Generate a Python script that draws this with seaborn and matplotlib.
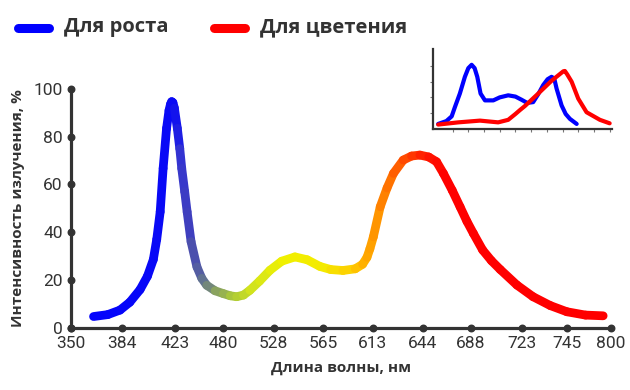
import numpy as np
import matplotlib
matplotlib.use("Agg")
import matplotlib.pyplot as plt
import seaborn as sns
from matplotlib.collections import LineCollection
from matplotlib.colors import LinearSegmentedColormap
from matplotlib.lines import Line2D

# --- data ---
tick_labels = ["350", "384", "423", "480", "528", "565", "613", "644", "688", "723", "745", "800"]
tick_pos = [0, 1.04, 2.12, 3.1, 4.14, 5.14, 6.16, 7.18, 8.16, 9.2, 10.12, 11.02]
y_ticks = [0, 20, 40, 60, 80, 100]

# spectrum curve, x in axis units (tick positions above)
spec_x = [0.46, 0.75, 1.0, 1.2, 1.41, 1.56, 1.68, 1.75, 1.82, 1.88, 1.95, 2.0, 2.03, 2.055,
          2.08, 2.11, 2.17, 2.22, 2.26, 2.32, 2.37, 2.45, 2.57, 2.67, 2.77, 2.94, 3.11, 3.25,
          3.38, 3.52, 3.65, 3.85, 4.06, 4.3, 4.57, 4.82, 5.08, 5.3, 5.55, 5.8, 5.95, 6.04,
          6.1, 6.17, 6.31, 6.45, 6.58, 6.78, 6.95, 7.12, 7.3, 7.46, 7.6, 7.78, 7.94, 8.08,
          8.21, 8.4, 8.58, 8.76, 9.1, 9.43, 9.78, 10.12, 10.5, 10.86]
spec_y = [4.6, 5.4, 7.3, 10.6, 15.9, 21.5, 28.5, 37.0, 48.5, 66.7, 83.5, 91.0, 93.6, 94.7,
          94.3, 92.0, 83.5, 75.0, 66.7, 57.0, 48.5, 36.0, 25.4, 20.6, 17.7, 15.4, 14.2, 13.3,
          12.9, 13.6, 15.6, 19.5, 24.0, 27.8, 29.6, 28.4, 25.6, 24.3, 23.9, 24.6, 26.5, 29.4,
          33.0, 38.0, 50.6, 58.5, 64.6, 70.2, 71.9, 72.3, 71.5, 69.5, 64.6, 57.5, 50.6, 44.5,
          39.5, 32.5, 28.0, 24.3, 17.8, 12.9, 9.2, 6.6, 5.2, 4.9]

# inset curves
grow_x = [0.08, 0.6, 0.94, 1.15, 1.46, 1.78, 2.0, 2.21, 2.4, 2.57, 2.78, 3.06, 3.59, 4.0,
          4.54, 5.0, 5.39, 5.75, 6.13, 6.45, 6.77, 7.05, 7.3, 7.47, 7.62, 7.94, 8.2, 8.47, 8.9]
grow_y = [0.32, 0.5, 0.8, 1.4, 2.24, 3.3, 3.85, 4.06, 3.85, 3.3, 2.24, 1.81, 1.81, 2.0,
          2.13, 2.05, 1.85, 1.65, 1.7, 2.2, 2.78, 3.15, 3.3, 3.2, 2.56, 1.49, 0.95, 0.64, 0.32]
bloom_x = [0.08, 1.36, 2.74, 3.9, 4.54, 5.0, 5.29, 5.6, 6.45, 7.3, 7.8, 8.05, 8.15, 8.3,
           8.58, 9.0, 9.53, 10.38, 11.0]
bloom_y = [0.28, 0.42, 0.53, 0.42, 0.58, 0.95, 1.2, 1.45, 2.24, 3.05, 3.45, 3.65, 3.67, 3.45,
           2.99, 1.92, 1.06, 0.58, 0.36]

legend_labels = ["Для роста", "Для цветения"]

dark = "#333333"
sns.set_style("white")
plt.rcParams["font.family"] = ["Open Sans", "DejaVu Sans"]

fig = plt.figure(figsize=(6.3, 3.9), dpi=100)
ax = fig.add_axes([71 / 630, 1 - 327.5 / 390, 540 / 630, 238.5 / 390])

# gradient spectrum line
cmap = LinearSegmentedColormap.from_list("spec", [
    (0.0, "#0000ff"), (2.08 / 11.02, "#0a0af5"), (2.25 / 11.02, "#3434d0"),
    (2.45 / 11.02, "#4646b4"), (2.7 / 11.02, "#5e6e94"), (3.0 / 11.02, "#88a062"),
    (3.35 / 11.02, "#aac83a"), (3.8 / 11.02, "#d6e61a"), (4.4 / 11.02, "#f0f000"),
    (5.2 / 11.02, "#f4ea00"), (5.8 / 11.02, "#ffcc00"), (6.25 / 11.02, "#ff9200"),
    (6.8 / 11.02, "#ff5200"), (7.3 / 11.02, "#ff1800"), (7.7 / 11.02, "#ff0000"),
    (1.0, "#ff0000")])
pts = np.column_stack([spec_x, spec_y])
segs = np.stack([pts[:-1], pts[1:]], axis=1)
mid = (np.array(spec_x[:-1]) + np.array(spec_x[1:])) / 2 / 11.02
lc = LineCollection(segs, colors=cmap(mid), linewidths=6.3, capstyle="round",
                    joinstyle="round", clip_on=False, zorder=3)
ax.add_collection(lc)

ax.set_xlim(0, 11.02)
ax.set_ylim(0, 100)
ax.set_xticks(tick_pos)
ax.set_xticklabels(tick_labels)
ax.set_yticks(y_ticks)
sns.despine(ax=ax)
for s in ["left", "bottom"]:
    ax.spines[s].set_color(dark)
    ax.spines[s].set_linewidth(2.3)
ax.tick_params(length=0, labelsize=12.5, labelcolor=dark, pad=6)
for lab in ax.get_xticklabels() + ax.get_yticklabels():
    lab.set_fontfamily(["Liberation Sans Narrow", "Roboto", "DejaVu Sans"])
ax.scatter(tick_pos, [0] * len(tick_pos), s=22, color=dark, clip_on=False, zorder=4)
ax.scatter([0] * len(y_ticks), y_ticks, s=22, color=dark, clip_on=False, zorder=4)
ax.set_xlabel("Длина волны, нм", fontsize=11, fontweight="bold", color=dark, labelpad=7)
ax.set_ylabel("Интенсивность излучения, %", fontsize=11, fontweight="bold", color=dark, labelpad=6)

# inset
ins = fig.add_axes([433 / 630, 1 - 129 / 390, 179 / 630, 80 / 390])
sns.lineplot(x=grow_x, y=grow_y, ax=ins, color="#0000ff", linewidth=3)
sns.lineplot(x=bloom_x, y=bloom_y, ax=ins, color="#ff0000", linewidth=3)
for l in ins.lines:
    l.set_solid_capstyle("round")
    l.set_solid_joinstyle("round")
ins.set_xlim(-0.25, 11.15)
ins.set_ylim(0, 5.06)
ins.set_xticks(range(1, 12))
ins.set_yticks(range(1, 5))
ins.set_xticklabels([])
ins.set_yticklabels([])
ins.patch.set_alpha(0)
sns.despine(ax=ins)
for s in ["left", "bottom"]:
    ins.spines[s].set_color(dark)
    ins.spines[s].set_linewidth(1.6)
ins.tick_params(bottom=True, left=True, length=2.5, width=0.8, color="#777777")

# legend
fig.add_artist(Line2D([18 / 630, 49 / 630], [1 - 28 / 390] * 2, color="#0000ff", lw=6.5,
                      solid_capstyle="round"))
fig.add_artist(Line2D([214 / 630, 245 / 630], [1 - 28 / 390] * 2, color="#ff0000", lw=6.5,
                      solid_capstyle="round"))
fig.text(64 / 630, 1 - 27 / 390, legend_labels[0], fontsize=14.5, fontweight="bold",
         color=dark, va="center", ha="left")
fig.text(260 / 630, 1 - 27 / 390, legend_labels[1], fontsize=14.5, fontweight="bold",
         color=dark, va="center", ha="left")

fig.savefig("out.png", dpi=100)
